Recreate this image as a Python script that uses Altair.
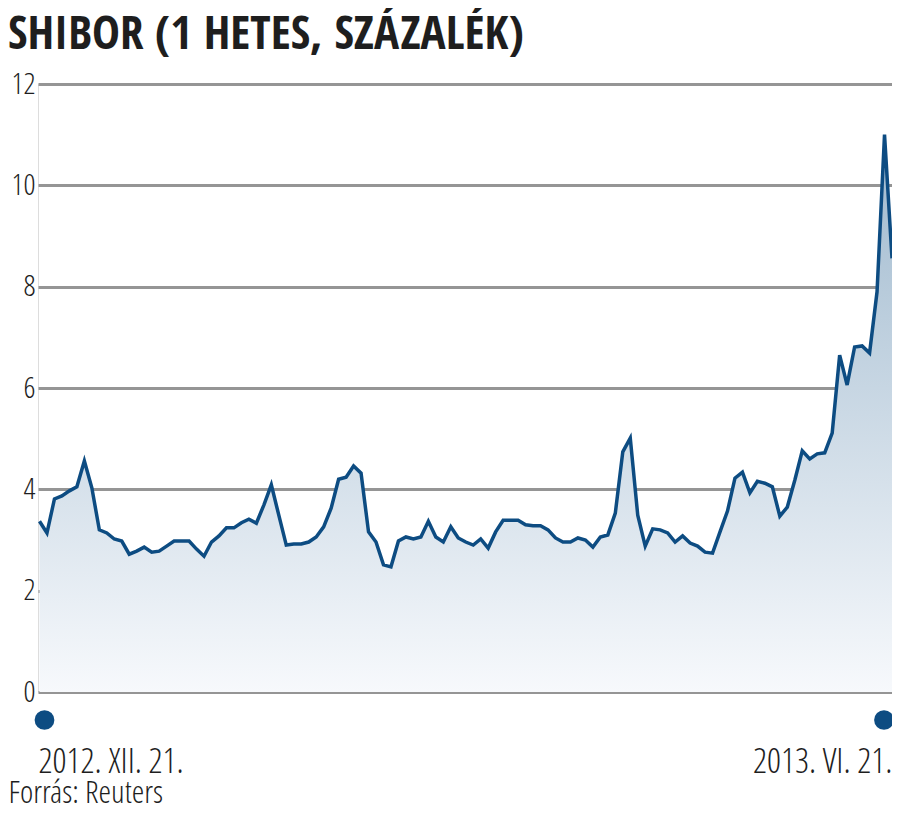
import altair as alt
import pandas as pd

# SHIBOR 1-week rate, percent, one value per trading day
shibor = [
    3.37, 3.14, 3.81, 3.87, 3.97, 4.05, 4.56, 4.03, 3.20, 3.14,
    3.02, 2.98, 2.72, 2.78, 2.86, 2.76, 2.78, 2.88, 2.98, 2.98,
    2.98, 2.82, 2.68, 2.96, 3.08, 3.24, 3.24, 3.34, 3.41, 3.33,
    3.69, 4.09, 3.49, 2.90, 2.92, 2.92, 2.96, 3.06, 3.26, 3.63,
    4.20, 4.24, 4.46, 4.32, 3.16, 2.96, 2.51, 2.47, 2.98, 3.06,
    3.02, 3.06, 3.37, 3.06, 2.96, 3.26, 3.04, 2.96, 2.90, 3.02,
    2.84, 3.16, 3.39, 3.39, 3.39, 3.30, 3.28, 3.28, 3.20, 3.04,
    2.96, 2.96, 3.04, 3.00, 2.86, 3.06, 3.10, 3.53, 4.74, 5.01,
    3.49, 2.88, 3.22, 3.20, 3.14, 2.96, 3.08, 2.94, 2.88, 2.76,
    2.74, 3.16, 3.57, 4.22, 4.34, 3.93, 4.16, 4.12, 4.05, 3.47,
    3.65, 4.18, 4.76, 4.60, 4.70, 4.72, 5.11, 6.65, 6.06, 6.81,
    6.83, 6.69, 7.90, 11.00, 8.56,
]
days = list(range(len(shibor)))
date_labels = ["2012. XII. 21.", "2013. VI. 21."]
y_ticks = [0, 2, 4, 6, 8, 10, 12]
title_text = "SHIBOR (1 HETES, SZÁZALÉK)"
source_text = "Forrás: Reuters"

TITLE_FONT = "Open Sans Condensed, Roboto, sans-serif"
FONT = "Open Sans Condensed Light, Open Sans Condensed, Roboto, sans-serif"
LW = 300
BLUE = "#0d4c82"
TXT = "#1e1e1e"

df = pd.DataFrame({"nap": days, "ertek": shibor})
last = days[-1]
x_lo, x_hi = -0.2, float(last)

x_enc = alt.X(
    "nap:Q",
    scale=alt.Scale(domain=[x_lo, x_hi], nice=False, zero=False),
    axis=alt.Axis(
        values=[x_lo, x_hi],
        labelExpr=f"datum.value < {last / 2} ? '{date_labels[0]}' : '{date_labels[1]}'",
        labelFlush=True,
        labelLimit=0,
        labelFont=FONT,
        labelFontSize=35,
        labelFontWeight=LW,
        labelColor=TXT,
        labelPadding=52,
        labelBaseline="top",
        ticks=False,
        domain=False,
        grid=False,
        title=source_text,
        titleFont=FONT,
        titleFontSize=32,
        titleFontWeight=LW,
        titleColor=TXT,
        titleAnchor="start",
        titleAlign="left",
        titleBaseline="top",
        titleX=-30,
        titleY=85,
        titleLimit=0,
    ),
)
y_enc = alt.Y(
    "ertek:Q",
    scale=alt.Scale(domain=[0, 12], nice=False),
    axis=alt.Axis(
        values=y_ticks,
        labelFont=FONT,
        labelFontSize=30,
        labelFontWeight=LW,
        labelColor=TXT,
        labelPadding=3,
        labelAlign="right",
        labelBaseline="middle",
        ticks=False,
        domain=False,
        grid=True,
        gridColor="#959595",
        gridWidth=3,
        title=None,
    ),
)

base = alt.Chart(df)

area = base.mark_area(
    color=alt.Gradient(
        gradient="linear",
        stops=[
            alt.GradientStop(color="#f7f9fc", offset=0),
            alt.GradientStop(color="#9fb9ce", offset=1),
        ],
        x1=1, x2=1, y1=1, y2=0,
    ),
).encode(x=x_enc, y=y_enc)

line = base.mark_line(color=BLUE, strokeWidth=3.5, strokeJoin="miter").encode(
    x="nap:Q", y="ertek:Q"
)

dot_left = base.mark_circle(color=BLUE, size=390, opacity=1, xOffset=5).encode(
    x="nap:Q", y=alt.value(636)
).transform_filter(alt.datum.nap == 0)

dot_right = base.mark_circle(color=BLUE, size=390, opacity=1, xOffset=-8).encode(
    x="nap:Q", y=alt.value(636)
).transform_filter(alt.datum.nap == last)

chart = (
    alt.layer(area, line, dot_left, dot_right)
    .properties(
        width=854,
        height=608,
        autosize=alt.AutoSizeParams(type="none"),
        padding={"left": 30, "top": 76, "right": 0, "bottom": 116},
        title=alt.TitleParams(
            text=title_text,
            font=TITLE_FONT,
            fontSize=47,
            fontWeight="bold",
            color=TXT,
            anchor="start",
            frame="group",
            dx=-30,
            offset=-27,
            baseline="alphabetic",
            limit=0,
        ),
    )
    .configure_view(stroke=None)
    .configure(background="white")
)

chart.save("out.html", embed_options={"renderer": "svg", "actions": False})
